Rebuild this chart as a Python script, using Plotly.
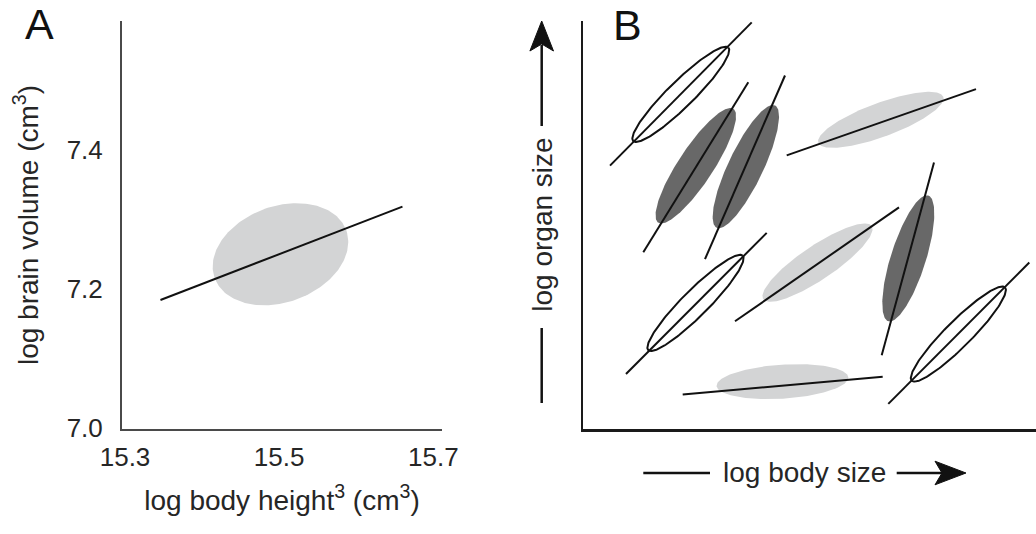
import numpy as np
import plotly.graph_objects as go

# ---------------- Panel A data ----------------
a_xticks = [15.3, 15.5, 15.7]
a_xticklabels = ["15.3", "15.5", "15.7"]
a_yticks = [7.0, 7.2, 7.4]
a_yticklabels = ["7.0", "7.2", "7.4"]
a_xrange = [15.2961, 15.7113]
a_yrange = [6.9986, 7.5848]
a_line_x = [15.346, 15.660]
a_line_y = [7.184, 7.318]
a_ell_cx = 15.5017
a_ell_cy = 7.2497
a_ell_major_px = 70
a_ell_minor_px = 48
a_ell_angle = 20

# ---------------- Panel B data (schematic units) ----------------
b_kind = ["open", "dark", "dark", "light", "open", "light", "dark", "light", "open"]
b_cx = [97.5, 112.5, 162.55, 297.5, 112.2, 234.2, 325.0, 199.2, 375.05]
b_cy = [334.65, 263.25, 262.4, 309.15, 126.05, 166.35, 170.6, 47.35, 94.95]
b_half_len = [66.7, 68.2, 67.8, 66.6, 66.8, 65.4, 66.0, 66.0, 66.0]
b_half_wid = [13, 17.5, 17.5, 17, 13, 17, 17.5, 17, 13]
b_angle = [44.5, 56.6, 64.5, 20.2, 45.0, 34.0, 72.4, 3.7, 45.0]
b_line_x0 = [26.7, 60.0, 121.7, 203.4, 42.7, 151.7, 298.4, 99.4, 305.0]
b_line_y0 = [263.4, 176.7, 169.9, 273.6, 55.0, 107.7, 73.7, 34.6, 25.1]
b_line_x1 = [168.4, 165.0, 201.7, 392.7, 183.4, 315.7, 350.7, 299.4, 446.0]
b_line_y1 = [406.6, 346.7, 353.5, 339.9, 196.1, 221.6, 266.5, 52.3, 166.5]
b_xrange = [0, 452.7]
b_yrange = [0, 408]

W, H = 1036, 534
FONT = "Liberation Sans, Arial, sans-serif"
TXT = "#262626"
LIGHT = "#d3d4d5"
DARK = "#686868"

# paper domains (pixel based)
ax_dom_x = [122 / W, 442 / W]
b_dom_x = [583.3 / W, 1.0]
dom_y = [(H - 429) / H, (H - 21) / H]

t = np.linspace(0, 2 * np.pi, 200)

fig = go.Figure()

# ---- Panel A ellipse (screen-px semi-axes converted through axis scale)
sx = (ax_dom_x[1] - ax_dom_x[0]) * W / (a_xrange[1] - a_xrange[0])
sy = (dom_y[1] - dom_y[0]) * H / (a_yrange[1] - a_yrange[0])
th = np.deg2rad(a_ell_angle)
ex = a_ell_cx + (a_ell_major_px * np.cos(t) * np.cos(th) - a_ell_minor_px * np.sin(t) * np.sin(th)) / sx
ey = a_ell_cy + (a_ell_major_px * np.cos(t) * np.sin(th) + a_ell_minor_px * np.sin(t) * np.cos(th)) / sy
fig.add_trace(go.Scatter(x=ex, y=ey, mode="lines", fill="toself", fillcolor=LIGHT,
                         line=dict(width=0, color=LIGHT), hoverinfo="skip", showlegend=False,
                         xaxis="x", yaxis="y"))
fig.add_trace(go.Scatter(x=a_line_x, y=a_line_y, mode="lines", line=dict(color="#111", width=2),
                         showlegend=False, xaxis="x", yaxis="y"))


def ellipse_pts(cx, cy, a, b, ang):
    r = np.deg2rad(ang)
    x = cx + a * np.cos(t) * np.cos(r) - b * np.sin(t) * np.sin(r)
    y = cy + a * np.cos(t) * np.sin(r) + b * np.sin(t) * np.cos(r)
    return x, y


# ---- Panel B: filled ellipses first
for i, k in enumerate(b_kind):
    if k in ("dark", "light"):
        x, y = ellipse_pts(b_cx[i], b_cy[i], b_half_len[i], b_half_wid[i], b_angle[i])
        col = DARK if k == "dark" else LIGHT
        fig.add_trace(go.Scatter(x=x, y=y, mode="lines", fill="toself", fillcolor=col,
                                 line=dict(width=0, color=col), hoverinfo="skip",
                                 showlegend=False, xaxis="x2", yaxis="y2"))
# regression lines
for i in range(len(b_kind)):
    fig.add_trace(go.Scatter(x=[b_line_x0[i], b_line_x1[i]], y=[b_line_y0[i], b_line_y1[i]],
                             mode="lines", line=dict(color="#111", width=2),
                             showlegend=False, xaxis="x2", yaxis="y2"))
# open ellipses outlines
for i, k in enumerate(b_kind):
    if k == "open":
        x, y = ellipse_pts(b_cx[i], b_cy[i], b_half_len[i], b_half_wid[i], b_angle[i])
        fig.add_trace(go.Scatter(x=x, y=y, mode="lines", line=dict(color="#111", width=2),
                                 hoverinfo="skip", showlegend=False, xaxis="x2", yaxis="y2"))

axis_common = dict(showgrid=False, zeroline=False, ticks="", fixedrange=True, automargin=False)

fig.update_layout(
    template="none",
    width=W, height=H,
    margin=dict(l=0, r=0, t=0, b=0, pad=0),
    paper_bgcolor="white", plot_bgcolor="white",
    font=dict(family=FONT, color=TXT),
    xaxis=dict(domain=ax_dom_x, range=a_xrange, showline=True, linecolor="#4a4a4a", linewidth=2,
               tickvals=a_xticks, ticktext=a_xticklabels, tickfont=dict(size=26, color=TXT),
               ticklabelstandoff=4,
               title=dict(text="log body height<sup>3</sup> (cm<sup>3</sup>)",
                          font=dict(size=28, color=TXT), standoff=19),
               anchor="y", **axis_common),
    yaxis=dict(domain=dom_y, range=a_yrange, showline=True, linecolor="#4a4a4a", linewidth=2,
               tickvals=a_yticks, ticktext=a_yticklabels, tickfont=dict(size=26, color=TXT),
               ticklabelstandoff=12,
               title=dict(text="log brain volume (cm<sup>3</sup>)",
                          font=dict(size=28, color=TXT), standoff=20),
               anchor="x", **axis_common),
    xaxis2=dict(domain=b_dom_x, range=b_xrange, showline=True, linecolor="#1a1a1a", linewidth=2.5,
                showticklabels=False, anchor="y2", **axis_common),
    yaxis2=dict(domain=dom_y, range=b_yrange, showline=True, linecolor="#1a1a1a", linewidth=2.5,
                showticklabels=False, anchor="x2", **axis_common),
)

# Panel letters
fig.add_annotation(text="A", x=39.5 / W, y=1 - 24 / H, xref="paper", yref="paper",
                   showarrow=False, font=dict(size=43, color="#111"), xanchor="center", yanchor="middle")
fig.add_annotation(text="B", x=627.5 / W, y=1 - 25 / H, xref="paper", yref="paper",
                   showarrow=False, font=dict(size=43, color="#111"), xanchor="center", yanchor="middle")

# Panel B axis labels with arrows
fig.add_annotation(text="log organ size", x=541.7 / W, y=1 - 225 / H, xref="paper", yref="paper",
                   showarrow=False, textangle=-90, font=dict(size=28, color=TXT),
                   xanchor="center", yanchor="middle")
fig.add_annotation(text="log body size", x=804 / W, y=1 - 472.6 / H, xref="paper", yref="paper",
                   showarrow=False, font=dict(size=28, color=TXT), xanchor="center", yanchor="middle")


def px(xp, yp):
    return f"{xp / W:.5f},{1 - yp / H:.5f}"


ARROW = "#111"
# vertical arrow (log organ size)
fig.add_shape(type="line", xref="paper", yref="paper", x0=541.7 / W, x1=541.7 / W,
              y0=1 - 328 / H, y1=1 - 403 / H, line=dict(color=ARROW, width=2.5))
fig.add_shape(type="line", xref="paper", yref="paper", x0=541.7 / W, x1=541.7 / W,
              y0=1 - 45 / H, y1=1 - 126 / H, line=dict(color=ARROW, width=2.5))
fig.add_shape(type="path", xref="paper", yref="paper",
              path=f"M{px(541.7, 21)} L{px(553.5, 51)} L{px(541.7, 44)} L{px(529.9, 51)} Z",
              fillcolor=ARROW, line=dict(color=ARROW, width=1))
# horizontal arrow (log body size)
fig.add_shape(type="line", xref="paper", yref="paper", x0=643.3 / W, x1=710 / W,
              y0=1 - 473 / H, y1=1 - 473 / H, line=dict(color=ARROW, width=2.5))
fig.add_shape(type="line", xref="paper", yref="paper", x0=896.7 / W, x1=944 / W,
              y0=1 - 473 / H, y1=1 - 473 / H, line=dict(color=ARROW, width=2.5))
fig.add_shape(type="path", xref="paper", yref="paper",
              path=f"M{px(966, 473)} L{px(935, 461.2)} L{px(942, 473)} L{px(935, 484.8)} Z",
              fillcolor=ARROW, line=dict(color=ARROW, width=1))

fig.write_html("out.html", config={"displayModeBar": False, "staticPlot": True},
               post_script="document.body.style.margin='0px';")
